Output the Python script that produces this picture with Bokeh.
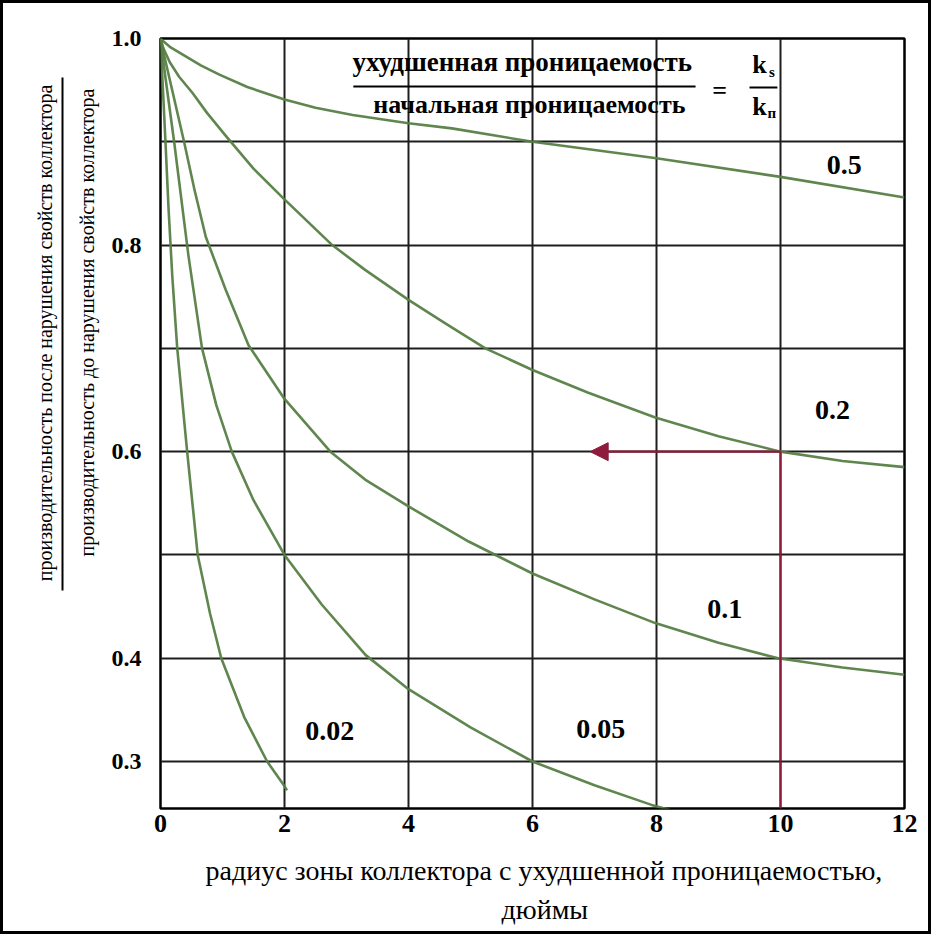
from bokeh.plotting import figure
from bokeh.models import (FixedTicker, Label, Arrow, NormalHead, Range1d, CustomJSTickFormatter,
                          LinearAxis, Title)
from bokeh.embed import file_html
from bokeh.resources import INLINE

# ---------------- data ----------------
ratio_labels = ["0.5", "0.2", "0.1", "0.05", "0.02"]

x_r05 = [0, 0.05, 0.15, 0.4, 0.65, 0.95, 1.4, 2.0, 2.5, 3.1, 4.0, 4.7, 6.0, 8.0, 10.0, 12.0]
y_r05 = [1.0, 0.997, 0.992, 0.983, 0.974, 0.965, 0.953, 0.941, 0.933, 0.926, 0.918, 0.913, 0.900, 0.884, 0.866, 0.846]

x_r02 = [0, 0.05, 0.15, 0.3, 0.52, 0.75, 1.05, 1.5, 1.97, 2.77, 3.3, 4.0, 4.6, 5.24, 6.0, 6.9, 7.98, 9.0, 10.0, 11.0, 12.0]
y_r02 = [1.0, 0.99, 0.977, 0.963, 0.947, 0.928, 0.906, 0.874, 0.846, 0.800, 0.776, 0.747, 0.724, 0.700, 0.679, 0.657, 0.633, 0.615, 0.600, 0.591, 0.585]

x_r01 = [0, 0.05, 0.15, 0.38, 0.55, 0.73, 1.05, 1.42, 2.0, 2.74, 3.3, 4.0, 4.97, 6.0, 7.0, 7.98, 9.0, 9.96, 11.0, 12.0]
y_r01 = [1.0, 0.986, 0.96, 0.90, 0.853, 0.808, 0.757, 0.703, 0.651, 0.600, 0.573, 0.547, 0.513, 0.482, 0.457, 0.434, 0.415, 0.400, 0.391, 0.384]

x_r005 = [0, 0.08, 0.22, 0.45, 0.67, 0.9, 1.15, 1.5, 2.0, 2.6, 3.31, 4.0, 5.0, 6.0, 7.0, 7.92, 8.4]
y_r005 = [1.0, 0.962, 0.90, 0.79, 0.70, 0.645, 0.600, 0.553, 0.500, 0.452, 0.403, 0.370, 0.333, 0.300, 0.277, 0.258, 0.250]

x_r002 = [0, 0.04, 0.08, 0.13, 0.19, 0.27, 0.43, 0.6, 0.8, 0.98, 1.35, 1.72, 1.99, 2.04]
y_r002 = [1.0, 0.95, 0.90, 0.835, 0.77, 0.700, 0.600, 0.500, 0.443, 0.400, 0.343, 0.300, 0.277, 0.272]

x_ticks = [0, 2, 4, 6, 8, 10, 12]
y_ticks = [0.3, 0.4, 0.6, 0.8, 1.0]
x_grid = [2, 4, 6, 8, 10]
y_grid = [0.3, 0.4, 0.5, 0.6, 0.7, 0.8, 0.9]

example_level = 0.6     # red arrow: productivity ratio read at
example_radius = 10     # radius 10 in

series = [(x_r05, y_r05), (x_r02, y_r02), (x_r01, y_r01), (x_r005, y_r005), (x_r002, y_r002)]

x_title_1 = "радиус зоны коллектора с ухудшенной проницаемостью,"
x_title_2 = "дюймы"
y_title_num = "производительность после нарушения свойств коллектора"
y_title_den = "производительность до нарушения свойств коллектора"

# ---------------- styling ----------------
FONT = "Liberation Serif"
CURVE = "#567f45"
RED = "#8e1b3b"
GRID = "#1e1e1e"
Y0 = 0.2545

p = figure(
    output_backend="svg", toolbar_location=None,
    frame_width=744, frame_height=770,
    min_border_left=157, min_border_right=24, min_border_top=35, min_border_bottom=123,
    x_range=Range1d(0, 12), y_range=Range1d(Y0, 1.0),
    background_fill_color="white", border_fill_color="white",
)
p.styles = {"border": "3px solid black"}

p.outline_line_color = "black"
p.outline_line_width = 2.5

p.xgrid.ticker = FixedTicker(ticks=x_grid)
p.ygrid.ticker = FixedTicker(ticks=y_grid)
for g in (p.xgrid[0], p.ygrid[0]):
    g.grid_line_color = GRID
    g.grid_line_width = 2
    g.grid_line_alpha = 1.0

def bare(ax):
    ax.axis_line_color = None
    ax.major_tick_line_color = None
    ax.minor_tick_line_color = None
    ax.major_tick_out = 0
    ax.major_tick_in = 0
    ax.minor_tick_out = 0
    ax.minor_tick_in = 0

xa = p.xaxis[0]
ya = p.yaxis[0]
xa.ticker = FixedTicker(ticks=x_ticks)
ya.ticker = FixedTicker(ticks=y_ticks)
xa.formatter = CustomJSTickFormatter(code="return tick.toFixed(0);")
ya.formatter = CustomJSTickFormatter(code="return tick.toFixed(1);")
for ax in (xa, ya):
    bare(ax)
    ax.major_label_text_font = FONT
    ax.major_label_text_font_style = "bold"
    ax.major_label_text_color = "black"
xa.major_label_text_font_size = "26px"
xa.major_label_standoff = 6
ya.major_label_text_font_size = "24px"
ya.major_label_standoff = 19

def side_title(text, size, align, offset, standoff, where):
    t = Title(text=text, align=align, offset=offset, standoff=standoff,
              text_font=FONT, text_font_size=size, text_font_style="normal", text_color="black")
    p.add_layout(t, where)

# x-axis title, two lines (a thin blank title spaces them from the tick labels)
side_title("\u00a0", "1px", "left", 0, 10, "below")
side_title(x_title_1, "28px", "left", 45, 11, "below")
side_title(x_title_2, "28px", "left", 341, 1, "below")

# y-axis title as a fraction: denominator, fraction bar, numerator
side_title(y_title_den, "20px", "right", 50, 22, "left")
ybar = LinearAxis(ticker=FixedTicker(ticks=[]), bounds=(0.4657, 0.962),
                  major_label_text_font_size="0px", major_label_standoff=0)
bare(ybar)
ybar.axis_line_color = "black"
ybar.axis_line_width = 2
p.add_layout(ybar, "left")
side_title(y_title_num, "20px", "right", 46, 14, "left")

# curves
for xs, ys in series:
    p.line(xs, ys, line_color=CURVE, line_width=2.6, line_alpha=0.95, line_join="round")

# curve labels
label_pos = [(11.03, 0.878), (10.84, 0.640), (9.10, 0.448), (7.10, 0.331), (2.73, 0.330)]
for txt, (lx, ly) in zip(ratio_labels, label_pos):
    p.add_layout(Label(x=lx, y=ly, text=txt, text_font=FONT, text_font_size="28px",
                       text_font_style="bold", text_align="center", text_baseline="middle",
                       text_color="black"))

# red example arrow
p.segment(x0=[example_radius], y0=[example_level], x1=[example_radius], y1=[Y0],
          line_color=RED, line_width=2)
p.add_layout(Arrow(end=NormalHead(size=18, fill_color=RED, line_color=RED),
                   x_start=example_radius, y_start=example_level, x_end=6.93, y_end=example_level,
                   line_color=RED, line_width=2.2))

# legend fraction (ratio of permeabilities)
def lab(x, y, text, size, style="normal"):
    p.add_layout(Label(x=x, y=y, text=text, text_font=FONT, text_font_size=size,
                       text_font_style=style, text_align="center", text_baseline="middle",
                       text_color="black"))

lab(5.89, 0.977, "ухудшенная  проницаемость", "27px", "bold")
lab(5.95, 0.936, "начальная проницаемость", "26px", "bold")
p.segment(x0=[3.11], y0=[0.9535], x1=[8.63], y1=[0.9535], line_color="black", line_width=2)
lab(9.02, 0.9497, "=", "26px", "bold")
lab(9.66, 0.9748, "k", "26px", "bold")
lab(9.86, 0.968, "s", "15px", "bold")
p.segment(x0=[9.5], y0=[0.9526], x1=[9.95], y1=[0.9526], line_color="black", line_width=2)
lab(9.66, 0.934, "k", "26px", "bold")
lab(9.86, 0.928, "п", "15px", "bold")

open("out.html", "w").write(file_html(p, INLINE))
